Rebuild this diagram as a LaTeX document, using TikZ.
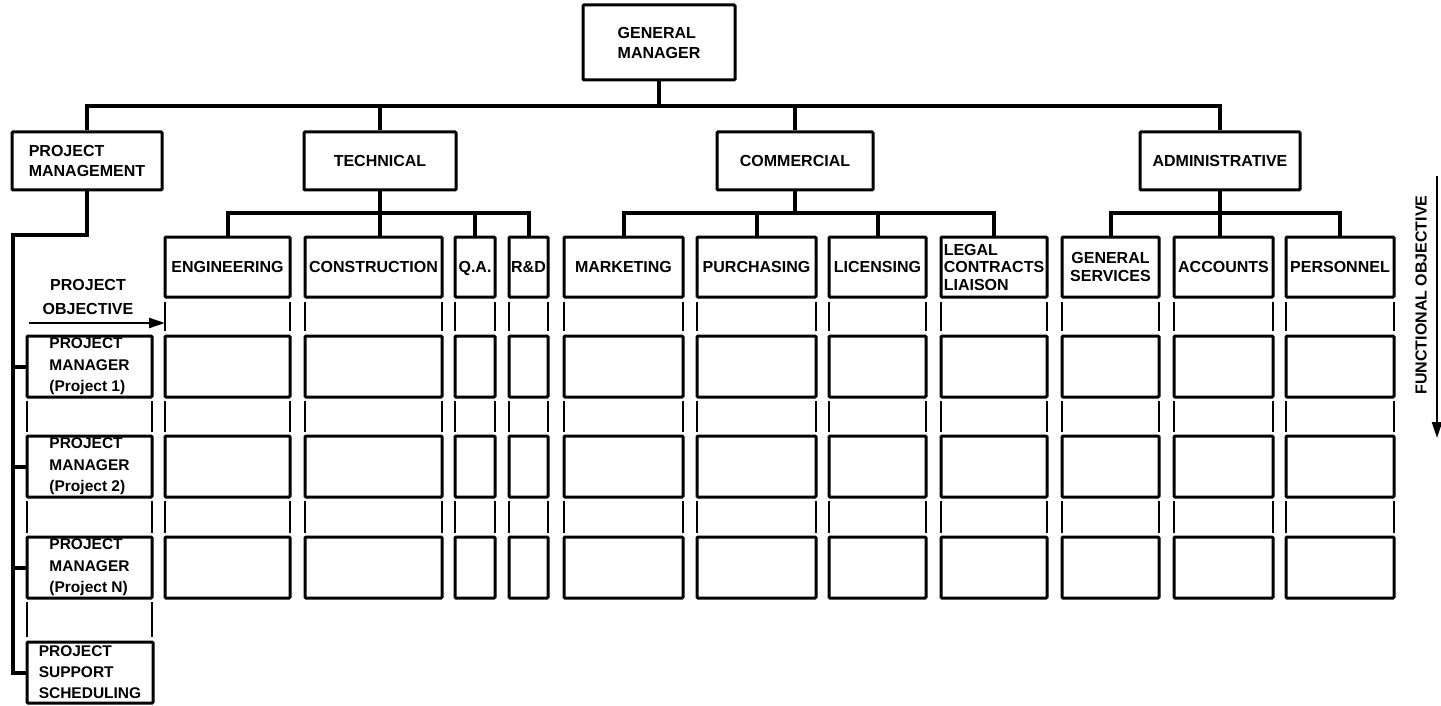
\documentclass[tikz,border=0pt]{standalone}
\usepackage{fontspec}
\setmainfont{Liberation Sans}
\usetikzlibrary{arrows.meta,calc}

% label fonts
\newcommand\lab{\fontsize{16}{17.5}\selectfont\bfseries}
\newcommand\labwide{\fontsize{16}{20}\selectfont\bfseries}
\newcommand\labrows{\fontsize{15.5}{21.5}\selectfont\bfseries}

% a framed box given by its corners: [options]{name}{x1}{y1}{x2}{y2}{text}
\newcommand\cbox[7][]{%
  \node[box,#1,minimum width={(#5)-(#3)},minimum height={(#6)-(#4)}]
    (#2) at ({((#3)+(#5))/2},{((#4)+(#6))/2}) {#7};}
% an open cell: only its two side walls are drawn
\newcommand\gaprow[5]{%
  \node[hidden,minimum width={(#4)-(#2)},minimum height={(#5)-(#3)}]
    (#1) at ({((#2)+(#4))/2},{((#3)+(#5))/2}) {};
  \draw[side] (#1.north west) -- (#1.south west);
  \draw[side] (#1.north east) -- (#1.south east);}

\begin{document}
\begin{tikzpicture}[x=1pt,y=-1pt,
  box/.style={draw,line width=3pt,inner sep=0.5pt,font=\lab,rounded corners=1pt},
  hidden/.style={inner sep=0pt,outer sep=0pt},
  conn/.style={line width=4pt},
  side/.style={line width=2.8pt},
  objarrow/.style={line width=2.4pt,-{Triangle[length=16pt,width=10pt]}}]
\useasboundingbox (0,0) rectangle (1441,706);
\fill[white] (0,0) rectangle (1441,706);

% top of the organisation
\cbox[align=left,font=\labwide]{gm}{583}{5}{735}{80}{GENERAL\\MANAGER}
\cbox[align=left,font=\labwide]{pm}{12}{132}{162}{190}{PROJECT\\MANAGEMENT}
\cbox{tech}{304}{132}{456}{190}{TECHNICAL}
\cbox{comm}{717}{132}{873}{190}{COMMERCIAL}
\cbox{admin}{1140}{132}{1300}{190}{ADMINISTRATIVE}

% functional departments, each with its matrix column below
\foreach \n/\a/\b/\t/\al in {
  eng/165/290/ENGINEERING/center,
  cons/305/442/CONSTRUCTION/center,
  qa/455/495/{\raisebox{0pt}[\height][0pt]{Q.A.}}/center,
  rd/509/548/R\&D/center,
  mkt/564/683/MARKETING/center,
  pur/697/816/PURCHASING/center,
  lic/829/926/LICENSING/center,
  legal/941/1047/{LEGAL\\CONTRACTS\\LIAISON}/left,
  gs/1062/1159/{GENERAL\\SERVICES}/center,
  acc/1174/1273/ACCOUNTS/center,
  per/1286/1394/PERSONNEL/center}{
  \cbox[align=\al]{\n}{\a}{237}{\b}{297}{\t}
  \gaprow{\n-g1}{\a}{302}{\b}{331}
  \cbox{\n-r1}{\a}{336}{\b}{397}{}
  \gaprow{\n-g2}{\a}{401}{\b}{432}
  \cbox{\n-r2}{\a}{436}{\b}{497}{}
  \gaprow{\n-g3}{\a}{501}{\b}{533}
  \cbox{\n-r3}{\a}{537}{\b}{598}{}
}

% project managers column
\cbox[align=left,font=\labrows]{pm1}{27}{336}{152}{397}{PROJECT\\MANAGER\\(Project 1)}
\gaprow{l-g2}{27}{401}{152}{432}
\cbox[align=left,font=\labrows]{pm2}{27}{436}{152}{497}{PROJECT\\MANAGER\\(Project 2)}
\gaprow{l-g3}{27}{501}{152}{533}
\cbox[align=left,font=\labrows]{pmn}{27}{537}{152}{598}{PROJECT\\MANAGER\\(Project N)}
\gaprow{l-g4}{27}{602}{152}{637}
\cbox[align=left,font=\fontsize{15.5}{21}\selectfont\bfseries]{sup}{27}{642}{153}{703}{PROJECT\\SUPPORT\\SCHEDULING}

% main bus under the general manager
\coordinate (topbus) at (0,106);
\draw[conn] (gm.south) -- (gm.south |- topbus);
\draw[conn] (pm.north) -- (pm.north |- topbus) -- (admin.north |- topbus) -- (admin.north);
\draw[conn] (tech.north) -- (tech.north |- topbus);
\draw[conn] (comm.north) -- (comm.north |- topbus);

% department buses
\coordinate (subbus) at (0,213);
\draw[conn] (eng.north) |- (rd.north |- subbus) -- (rd.north);
\draw[conn] (tech.south) -- (tech.south |- cons.north);
\draw[conn] (qa.north) -- (qa.north |- subbus);
\draw[conn] (mkt.north) |- (legal.north |- subbus) -- (legal.north);
\draw[conn] (comm.south) -- (comm.south |- subbus);
\draw[conn] (pur.north) -- (pur.north |- subbus);
\draw[conn] (lic.north) -- (lic.north |- subbus);
\draw[conn] (gs.north) |- (per.north |- subbus) -- (per.north);
\draw[conn] (admin.south) -- (admin.south |- acc.north);

% project management bus on the left
\coordinate (lbus) at (13,235);
\draw[conn] (pm.south) |- (lbus) |- (sup.west);
\foreach \r in {pm1,pm2,pmn}
  \draw[conn] (\r.west) -- (\r.west -| lbus);

% objective arrows
\node[font=\fontsize{16}{24}\selectfont\bfseries,align=center] (polabel) at (88,297) {PROJECT\\OBJECTIVE};
\coordinate (postart) at (29,323);
\draw[objarrow] (postart) -- (postart -| eng-g1.west);

\node[font=\lab,rotate=90] (folabel) at (1421,295) {FUNCTIONAL OBJECTIVE};
\coordinate (fotop) at (1437,176);
\coordinate (fobot) at (1437,438);
\draw[objarrow] (fotop) -- (fobot);
\end{tikzpicture}
\end{document}
